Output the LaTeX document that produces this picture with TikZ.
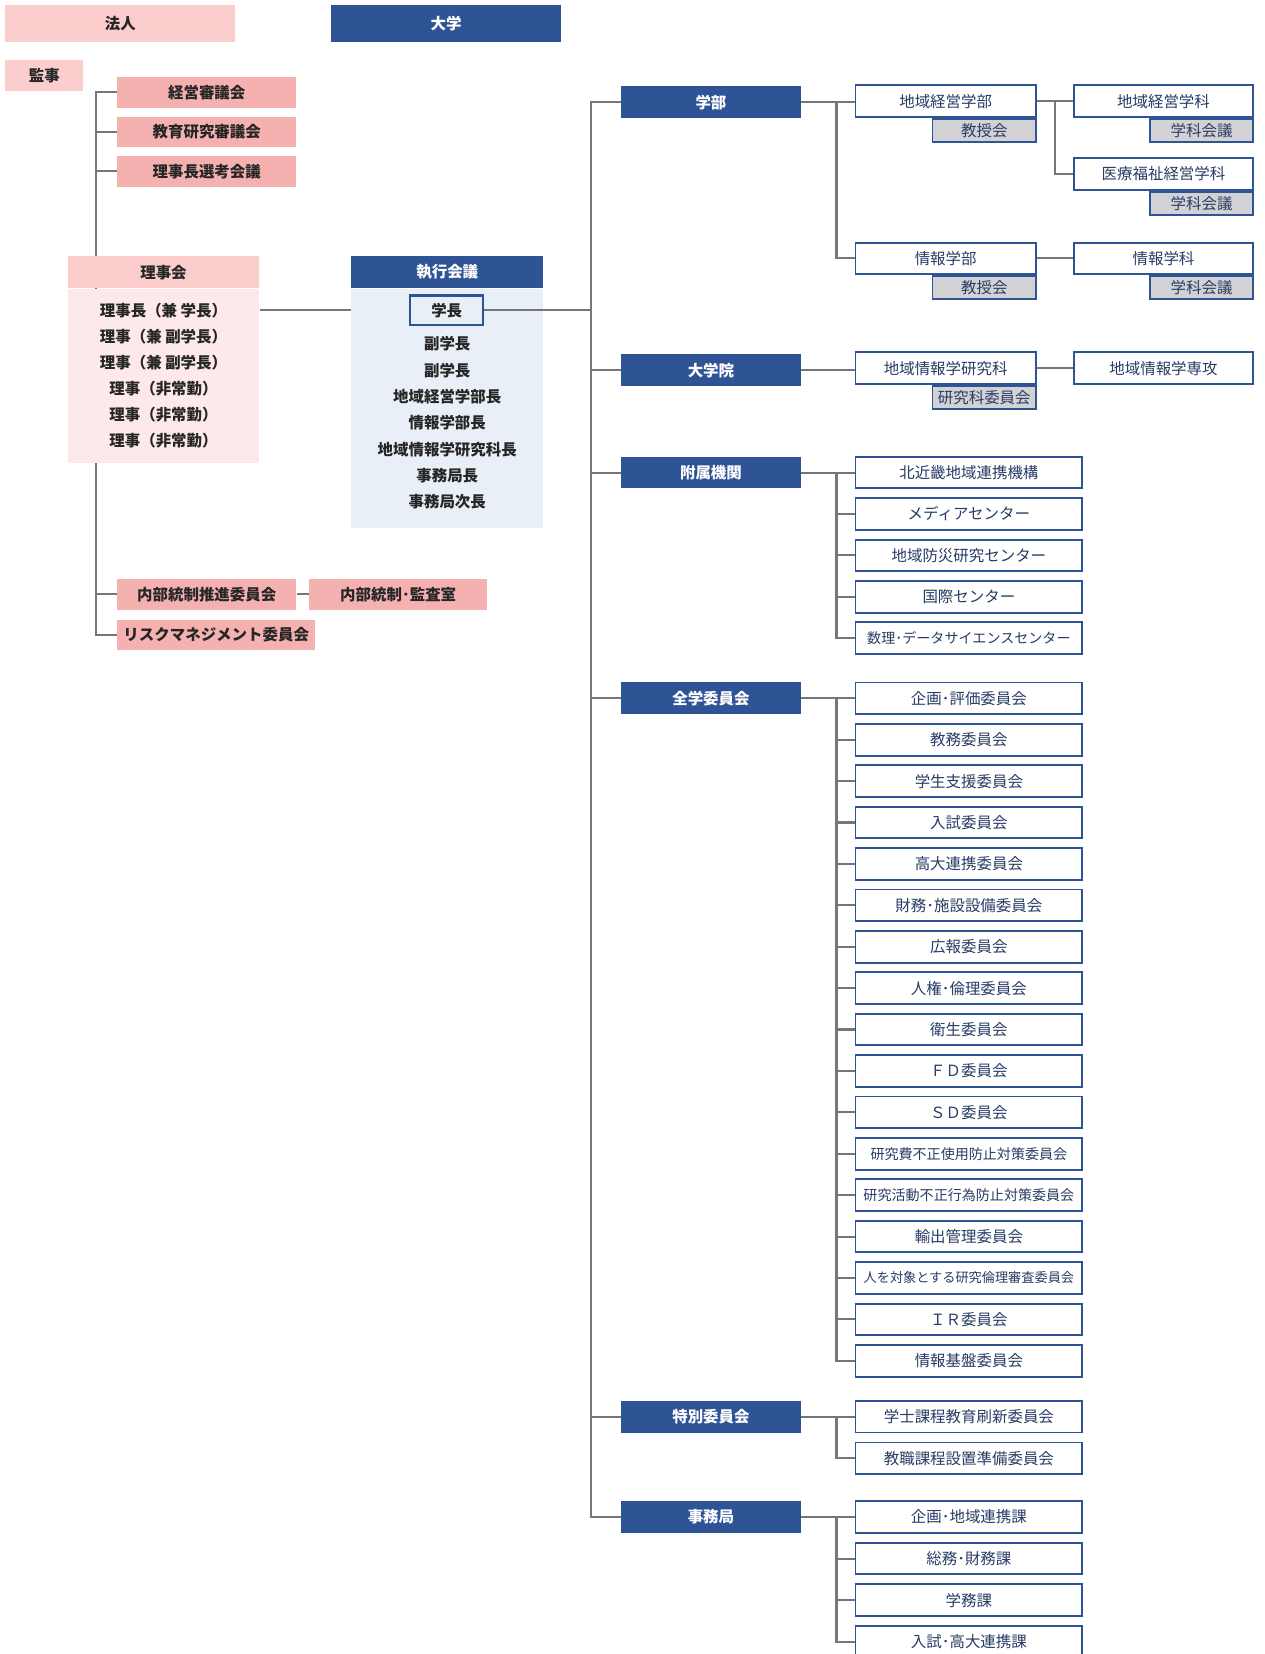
\documentclass[tikz,border=0pt]{standalone}
\usepackage{fontspec}
\setmainfont{Noto Sans CJK JP}
\usetikzlibrary{backgrounds}

\definecolor{hojinpink}{RGB}{251,205,205}
\definecolor{iinpink}{RGB}{245,176,176}
\definecolor{bodypink}{RGB}{253,233,233}
\definecolor{daiblue}{RGB}{47,84,150}
\definecolor{bodyblue}{RGB}{233,239,247}
\definecolor{subgray}{RGB}{210,210,212}
\definecolor{txtblue}{RGB}{40,60,100}
\definecolor{linegray}{RGB}{118,118,118}

\newcommand{\upx}{0.0211cm}
\newcommand{\nar}[1]{{\fontsize{8}{10}\selectfont #1}}
\newcommand{\narr}[1]{{\fontsize{7.5}{10}\selectfont #1}}

\tikzset{
  base/.style={inner sep=0pt, font=\fontsize{8.8}{10}\selectfont},
  boldtext/.style={inner sep=0pt, font=\fontsize{8.8}{10}\selectfont\bfseries, text=black!85},
  hojinbox/.style={boldtext, fill=hojinpink, minimum width=218*\upx, minimum height=35*\upx},
  daigakubox/.style={boldtext, fill=daiblue, text=white, minimum width=218*\upx, minimum height=35*\upx},
  iinbox/.style={boldtext, fill=iinpink, minimum width=170*\upx, minimum height=29*\upx},
  headpink/.style={boldtext, fill=hojinpink, minimum width=182*\upx, minimum height=30*\upx},
  headblue/.style={boldtext, fill=daiblue, text=white, minimum width=182*\upx, minimum height=30*\upx},
  bodypinkbox/.style={fill=bodypink, minimum width=182*\upx, inner sep=0pt},
  bodybluebox/.style={fill=bodyblue, minimum width=182*\upx, inner sep=0pt},
  gakucho/.style={boldtext, draw=daiblue, line width=1.3pt, fill=bodyblue, minimum width=69*\upx, minimum height=28*\upx},
  bubox/.style={boldtext, fill=daiblue, text=white, minimum width=170*\upx, minimum height=30*\upx},
  unit/.style={base, draw=daiblue, line width=1.1pt, fill=white, text=txtblue, minimum width=171*\upx, minimum height=30*\upx},
  subunit/.style={base, draw=daiblue, line width=1pt, fill=subgray, text=txtblue, minimum width=98*\upx, minimum height=22*\upx, anchor=north east},
  item/.style={unit, minimum width=215*\upx},
  conn/.style={draw=linegray, line width=1.2pt}
}

\begin{document}
\begin{tikzpicture}[x=\upx, y=-\upx]
\useasboundingbox (0,0) rectangle (1199,1568);

% 法人
\node[hojinbox] (hojin) at (114,22.5) {法人};
\node[daigakubox] (daigaku) at (423,22.5) {大学};
\node[hojinbox, minimum width=74*\upx, minimum height=29*\upx] (kanji) at (42,71.5) {監事};
\node[iinbox] (keiei) at (196,87.5) {経営審議会};
\node[iinbox] (kyoiku) at (196,125) {教育研究審議会};
\node[iinbox] (senko) at (196,162.5) {理事長選考会議};

\node[headpink] (rijikai) at (155,258) {理事会};
\node[bodypinkbox, anchor=north, minimum height=165*\upx] (rbody) at (rijikai.south) {};
\foreach \t [count=\i] in {理事長（兼 学長）,理事（兼 副学長）,理事（兼 副学長）,理事（非常勤）,理事（非常勤）,理事（非常勤）}
  \node[boldtext] (r\i) at (155,{294+(\i-1)*24.8}) {\t};

\node[iinbox] (naibu) at (196,563.5) {内部統制推進委員会};
\node[iinbox, minimum width=169*\upx] (kansa) at (377.5,563.5) {内部統制･監査室};
\node[iinbox, minimum width=188*\upx] (risk) at (205,602) {リスクマネジメント委員会};

% 執行会議
\node[headblue] (shikko) at (424,258) {執行会議};
\node[bodybluebox, anchor=north, minimum height=227*\upx] (sbody) at (shikko.south) {};
\node[gakucho] (gakucho) at (423.5,294) {学長};
\foreach \t [count=\i] in {副学長,副学長,地域経営学部長,情報学部長,地域情報学研究科長,事務局長,事務局次長}
  \node[boldtext] (s\i) at (424,{326+(\i-1)*25}) {\t};

% 大学の組織
\node[bubox] (gakubu) at (674,97) {学部};
\node[bubox] (daigakuin) at (674,351) {大学院};
\node[bubox] (fuzoku) at (674,448) {附属機関};
\node[bubox] (zengaku) at (674,662) {全学委員会};
\node[bubox] (tokubetsu) at (674,1343) {特別委員会};
\node[bubox] (jimukyoku) at (674,1438) {事務局};

\node[unit] (chiikikeiei) at (896.5,96) {地域経営学部};
\node[subunit] (chiikikeieiK) at (chiikikeiei.south east) {教授会};
\node[unit] (joho) at (896.5,245) {情報学部};
\node[subunit] (johoK) at (joho.south east) {教授会};
\node[unit, minimum width=170*\upx] (keieika) at (1103,96) {地域経営学科};
\node[subunit] (keieikaK) at (keieika.south east) {学科会議};
\node[unit, minimum width=170*\upx] (iryo) at (1103,165) {医療福祉経営学科};
\node[subunit] (iryoK) at (iryo.south east) {学科会議};
\node[unit, minimum width=170*\upx] (johoka) at (1103,245) {情報学科};
\node[subunit] (johokaK) at (johoka.south east) {学科会議};
\node[unit] (kenkyuka) at (896.5,349) {地域情報学研究科};
\node[subunit] (kenkyukaK) at (kenkyuka.south east) {研究科委員会};
\node[unit, minimum width=170*\upx] (senkou) at (1103,349) {地域情報学専攻};

\foreach \t [count=\i] in {北近畿地域連携機構,メディアセンター,地域防災研究センター,国際センター,\nar{数理･データサイエンスセンター}}
  \node[item] (f\i) at (918.5,{448+(\i-1)*39.25}) {\t};

\foreach \t [count=\i] in {企画･評価委員会,教務委員会,学生支援委員会,入試委員会,高大連携委員会,財務･施設設備委員会,広報委員会,人権･倫理委員会,衛生委員会,ＦＤ委員会,ＳＤ委員会,\nar{研究費不正使用防止対策委員会},\nar{研究活動不正行為防止対策委員会},輸出管理委員会,\narr{人を対象とする研究倫理審査委員会},ＩＲ委員会,情報基盤委員会}
  \node[item] (z\i) at (918.5,{662+(\i-1)*39.25}) {\t};

\foreach \t [count=\i] in {学士課程教育刷新委員会,教職課程設置準備委員会}
  \node[item] (t\i) at (918.5,{1343+(\i-1)*39.5}) {\t};

\foreach \t [count=\i] in {企画･地域連携課,総務･財務課,学務課,入試･高大連携課}
  \node[item] (j\i) at (918.5,{1438+(\i-1)*39.5}) {\t};

% connectors
\begin{scope}[on background layer]
  \coordinate (lbus) at (91,294);
  \foreach \n in {keiei,kyoiku,senko,naibu,risk}
    \draw[conn] (lbus) |- (\n.west);
  \draw[conn] (naibu) -- (kansa);
  \draw[conn] (rbody.east |- r1) -- (sbody.west |- r1);
\end{scope}

\coordinate (spine) at (560,294);
\draw[conn] (gakucho) -- (spine);
\foreach \n in {gakubu,daigakuin,fuzoku,zengaku,tokubetsu,jimukyoku}
  \draw[conn] (spine) |- (\n.west);

\coordinate (gbus) at (793,97);
\draw[conn] (gakubu) -- (gakubu -| chiikikeiei.west);
\draw[conn] (gbus) |- (joho.west);
\coordinate (cbus) at (1000,96);
\draw[conn] (chiikikeiei) -- (keieika);
\draw[conn] (cbus) |- (iryo.west);
\draw[conn] (joho) -- (johoka);
\draw[conn] (daigakuin) -- (daigakuin -| kenkyuka.west);
\draw[conn] (kenkyuka) -- (senkou);

\coordinate (fbus) at (793,448);
\draw[conn] (fuzoku) -- (f1);
\foreach \i in {2,...,5} \draw[conn] (fbus) |- (f\i.west);

\coordinate (zbus) at (793,662);
\draw[conn] (zengaku) -- (z1);
\foreach \i in {2,...,17} \draw[conn] (zbus) |- (z\i.west);

\coordinate (tbus) at (793,1343);
\draw[conn] (tokubetsu) -- (t1);
\draw[conn] (tbus) |- (t2.west);

\coordinate (jbus) at (793,1438);
\draw[conn] (jimukyoku) -- (j1);
\foreach \i in {2,...,4} \draw[conn] (jbus) |- (j\i.west);

\end{tikzpicture}
\end{document}
